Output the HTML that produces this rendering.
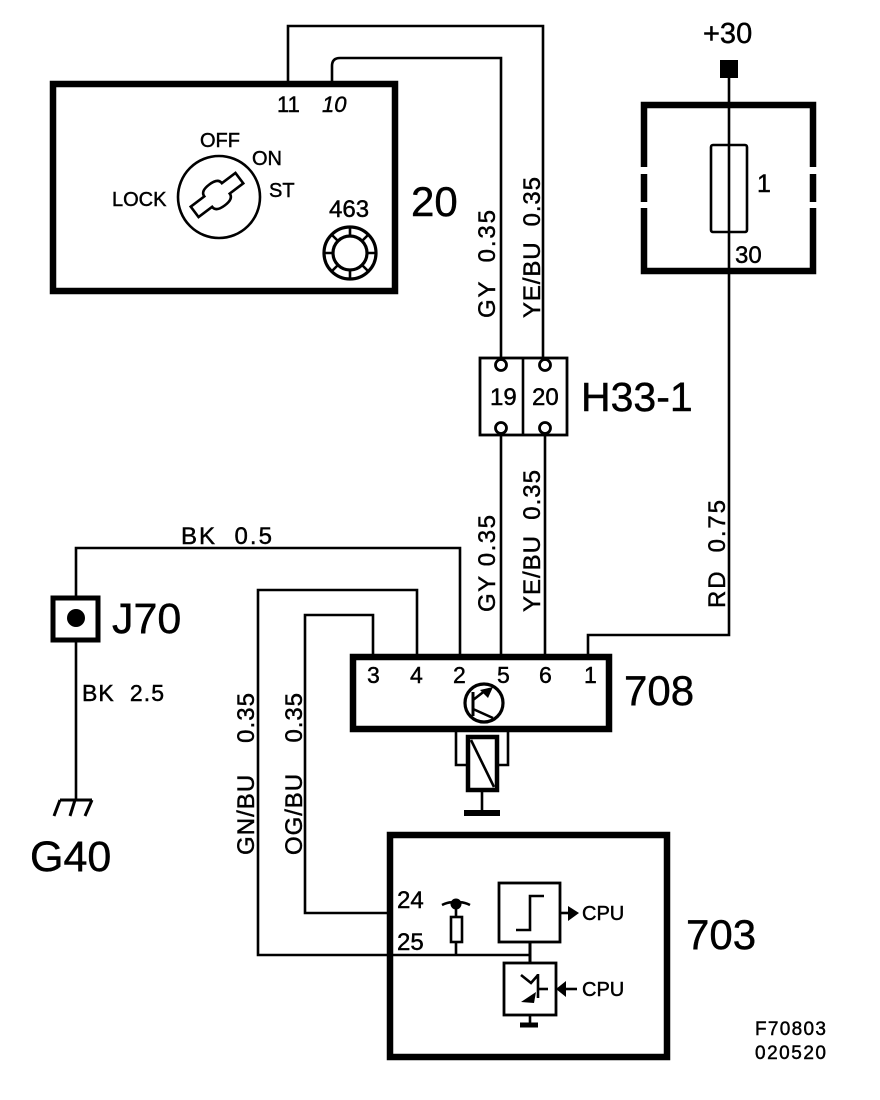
<!DOCTYPE html>
<html>
<head>
<meta charset="utf-8">
<style>
html,body{margin:0;padding:0;background:#fff;width:880px;height:1100px;overflow:hidden}
svg{display:block}
text{font-family:"Liberation Sans",sans-serif;fill:#000;stroke:#000;stroke-width:.45px}
</style>
</head>
<body>
<svg width="880" height="1100" viewBox="0 0 880 1100" xmlns="http://www.w3.org/2000/svg">
<g fill="none" stroke="#000" stroke-width="2.6" stroke-linejoin="miter">
  <!-- wires -->
  <path d="M288 82V26H543V358"/>
  <path d="M332 82V66Q332 58 340 58H501V358"/>
  <path d="M729 70V278V635H588V657"/>
  <path d="M501 433V657"/>
  <path d="M545 433V657"/>
  <path d="M76 640V800"/>
  <path d="M76 598V548H460V657"/>
  <path d="M417 657V590H258V955H530"/>
  <path d="M373 657V615H305V913H392"/>
  <!-- thick boxes -->
  <g stroke-width="6.5">
    <rect x="53" y="84" width="342" height="207"/>
    <path d="M644 167V105H813V167M644 174V202M813 174V202M644 208V271H813V208"/>
    <rect x="353" y="657" width="256" height="72"/>
    <rect x="390" y="835" width="277" height="222"/>
  </g>
  <!-- ignition -->
  <circle cx="219" cy="197" r="41"/>
  <path transform="translate(217 195) rotate(-37)" d="M-28 -6.5H-11Q-11 -13 0 -13Q11 -13 11 -6.5H28V6.5H11Q11 13 0 13Q-11 13 -11 6.5H-28Z"/>
  <!-- 463 -->
  <circle cx="350" cy="253" r="26" stroke-width="3.2"/>
  <circle cx="350" cy="253" r="17" stroke-width="3.2"/>
  <path d="M350 227V236M350 270V279M324 253H333M367 253H376M332 235L338 241M368 235L362 241M332 271L338 265M368 271L362 265"/>
  <!-- fuse -->
  <rect x="711" y="145" width="36" height="87" rx="2"/>
  <!-- H33-1 -->
  <rect x="480" y="358" width="87" height="77" stroke-width="2.8"/>
  <path d="M523 358V435"/>
  <g fill="#fff" stroke-width="2.8">
    <circle cx="501" cy="365" r="5.5"/>
    <circle cx="545" cy="365" r="5.5"/>
    <circle cx="501" cy="428" r="5.5"/>
    <circle cx="545" cy="428" r="5.5"/>
  </g>
  <!-- J70 -->
  <rect x="53" y="598" width="45" height="42" stroke-width="5"/>
  <!-- ground G40 -->
  <path d="M60 800H92M60 800L54 816M75 800L70 816M92 800L85 816" stroke-width="3"/>
  <!-- transistor -->
  <circle cx="484" cy="703" r="19" stroke-width="3.2"/>
  <path d="M473 692V716" stroke-width="3"/>
  <path d="M473 700L486 690M473 709L493 718"/>
  <!-- relay -->
  <rect x="468" y="737" width="29" height="53" stroke-width="4.5"/>
  <path d="M471 740L494 787"/>
  <path d="M456 732V765H468M508 732V765H497"/>
  <path d="M482 790V812"/>
  <path d="M464 813H500" stroke-width="6"/>
  <!-- 703 internals -->
  <rect x="499" y="883" width="61" height="59" stroke-width="2.8"/>
  <path d="M516 930H530V896H544" stroke-width="2.6"/>
  <path d="M530 942V963" stroke-width="3"/>
  <rect x="504" y="963" width="52" height="52" stroke-width="2.8"/>
  <path d="M530 1015V1024"/>
  <path d="M520 1025H538" stroke-width="5"/>
  <path d="M521 975L531 983L538 975M538 974V998" stroke-width="2.6"/>
  <path d="M538 989H548"/>
  <path d="M560 913H570"/>
  <path d="M577 989H564"/>
  <!-- pull-up -->
  <path d="M442 905Q450 901 456 903Q462 901 470 905"/>
  <path d="M456 908V917M456 942V955"/>
  <rect x="451" y="917" width="11" height="25"/>
</g>
<!-- solids -->
<rect x="720" y="60" width="18" height="18" fill="#000"/>
<circle cx="76" cy="618" r="9" fill="#000"/>
<circle cx="456" cy="904" r="5.5" fill="#000"/>
<path d="M568 906L579 913L568 921Z" fill="#000"/>
<path d="M556 989L566 981V997Z" fill="#000"/>
<path d="M521 1002L536 992L534 1003Z" fill="#000"/>
<path d="M493 687L480 690L488 698Z" fill="#000"/>
<!-- labels -->
<text x="703" y="43" font-size="29">+30</text>
<text x="277" y="112" font-size="22">11</text>
<text x="322" y="112" font-size="22" font-style="italic">10</text>
<text x="200" y="147" font-size="20">OFF</text>
<text x="252" y="165" font-size="20">ON</text>
<text x="269" y="197" font-size="20">ST</text>
<text x="112" y="206" font-size="20">LOCK</text>
<text x="329" y="217" font-size="24">463</text>
<text x="411" y="216" font-size="42">20</text>
<text x="757" y="192" font-size="25">1</text>
<text x="735" y="263" font-size="24">30</text>
<text x="490" y="405" font-size="24">19</text>
<text x="532" y="405" font-size="24">20</text>
<text x="581" y="411" font-size="41">H33-1</text>
<text x="112" y="633" font-size="43">J70</text>
<text x="82" y="701" font-size="23" textLength="82">BK&#160;&#160;2.5</text>
<text x="181" y="544" font-size="24" textLength="91">BK&#160;&#160;0.5</text>
<text x="30" y="871" font-size="43">G40</text>
<text x="367" y="683" font-size="23">3</text>
<text x="410" y="683" font-size="23">4</text>
<text x="453" y="683" font-size="23">2</text>
<text x="497" y="683" font-size="23">5</text>
<text x="539" y="683" font-size="23">6</text>
<text x="584" y="683" font-size="23">1</text>
<text x="624" y="705" font-size="42">708</text>
<text x="686" y="949" font-size="42">703</text>
<text x="397" y="908" font-size="24">24</text>
<text x="397" y="950" font-size="24">25</text>
<text x="582" y="920" font-size="20">CPU</text>
<text x="582" y="996" font-size="20">CPU</text>
<text x="755" y="1035" font-size="19" textLength="71">F70803</text>
<text x="755" y="1059" font-size="19" textLength="71">020520</text>
<text transform="translate(495,318) rotate(-90)" font-size="24" textLength="108">GY&#160;&#160;0.35</text>
<text transform="translate(540,318) rotate(-90)" font-size="24" textLength="141">YE/BU&#160;&#160;0.35</text>
<text transform="translate(495,612) rotate(-90)" font-size="24" textLength="97">GY&#160;0.35</text>
<text transform="translate(540,612) rotate(-90)" font-size="24" textLength="142">YE/BU&#160;&#160;0.35</text>
<text transform="translate(725,608) rotate(-90)" font-size="24" textLength="108">RD&#160;&#160;0.75</text>
<text transform="translate(254,855) rotate(-90)" font-size="24" textLength="162">GN/BU&#160;&#160;&#160;&#160;0.35</text>
<text transform="translate(302,855) rotate(-90)" font-size="24" textLength="162">OG/BU&#160;&#160;&#160;&#160;0.35</text>
</svg>
</body>
</html>
